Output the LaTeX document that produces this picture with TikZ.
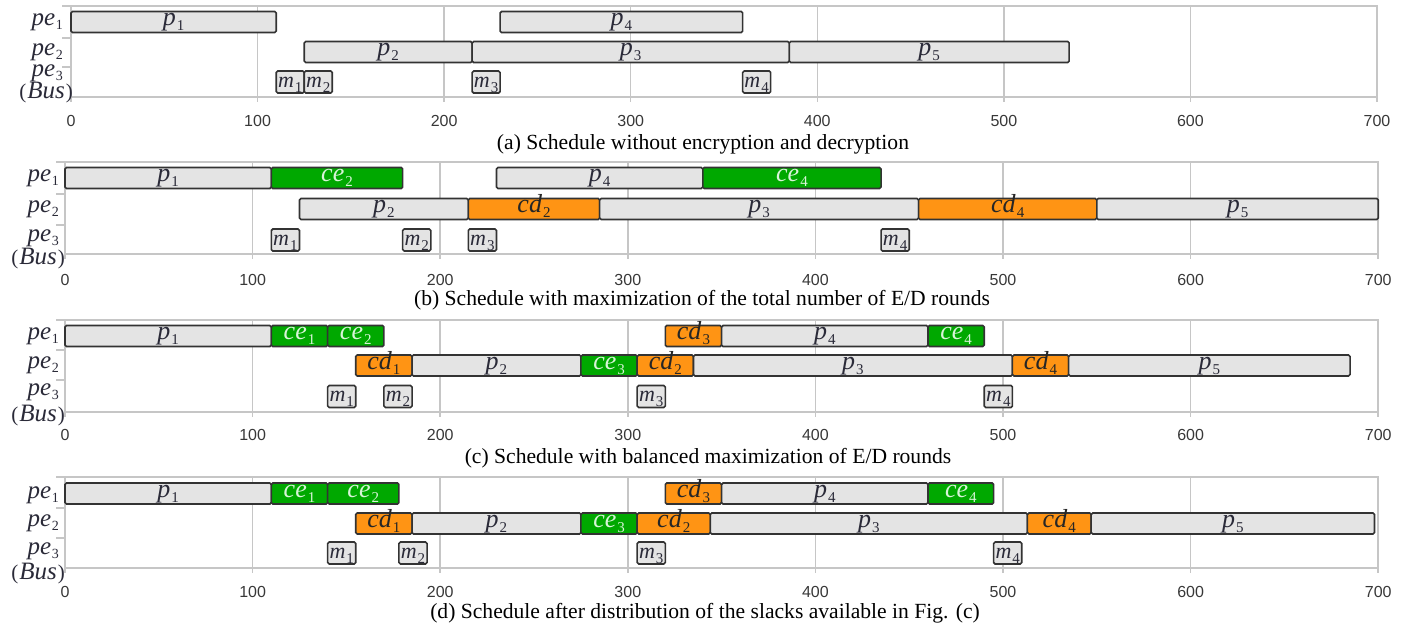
\documentclass[tikz,border=0pt]{standalone}
\usepackage{fontspec}
\setmainfont{Liberation Serif}
\newfontfamily\tickfont{Liberation Sans}

\definecolor{gridc}{HTML}{C6C6C6}
\definecolor{boxfill}{HTML}{E4E4E4}
\definecolor{boxline}{HTML}{333333}
\definecolor{encc}{HTML}{00A800}
\definecolor{decc}{HTML}{FF9414}
\definecolor{labc}{HTML}{2A2A38}
\definecolor{enclab}{HTML}{D8F4D8}

% italic letter(s) with an upright, lowered index
\newcommand\lbl[2]{\textit{#1}\kern1pt\raisebox{-5pt}{\fontsize{15}{15}\selectfont #2}}
% the same for the row names on the left
\newcommand\rowlbl[2]{\textit{#1}\kern0.5pt\raisebox{-4pt}{\fontsize{14}{14}\selectfont #2}}

\tikzset{
  jobbox/.style={draw=boxline, line width=1.6pt, rounded corners=1.5pt,
    inner sep=0pt, outer sep=0pt, minimum height=21pt,
    font=\fontsize{26}{26}\selectfont, text height=12pt, text depth=5pt, text=labc},
  proc/.style={jobbox, fill=boxfill},
  enc/.style={jobbox, fill=encc, text=enclab},
  dec/.style={jobbox, fill=decc, text=black!85},
  msg/.style={jobbox, fill=boxfill, minimum height=22pt,
    font=\fontsize{22}{22}\selectfont, text height=12pt, text depth=2pt},
  gridline/.style={draw=gridc, line width=1.5pt},
  ticklab/.style={font=\tickfont\fontsize{16}{16}\selectfont, text=black!78, inner sep=0pt},
  caption/.style={font=\fontsize{21.6}{22}\selectfont, inner sep=0pt},
  ylab/.style={font=\fontsize{25}{25}\selectfont, text=labc, anchor=base east, inner sep=0pt}
}

% one task: name, start, end, row centre, style, label
\newcommand\jobnode[6]{\node[#5, anchor=west, minimum width={(#3-#2)*\sx}] (#1) at ({\ox+#2*\sx},#4) {#6};}

% frame, grid and time axis: prefix, top, axis, separator 1, separator 2, tick label y
\newcommand\timeaxis[6]{%
  \foreach \t in {100,200,...,600} \draw[gridline] ({\ox+\t*\sx},#2) -- ({\ox+\t*\sx},#3+5);
  \draw[gridline] ({\ox-9},#2) -- ({\ox+700*\sx},#2) -- ({\ox+700*\sx},#3+5);
  \draw[gridline] (\ox,#2) -- (\ox,#3+5);
  \draw[gridline] (\ox,#3) -- ({\ox+700*\sx},#3);
  \draw[gridline] ({\ox-9},#4) -- (\ox,#4);
  \draw[gridline] ({\ox-9},#5) -- (\ox,#5);
  \foreach \t in {0,100,...,700} \node[ticklab] (#1-t\t) at ({\ox+\t*\sx},#6) {\t};
}

% bus label: small parentheses round an italic name
\newcommand\buslabel{{\fontsize{21}{21}\selectfont(}\kern1pt\textit{Bus}\kern1pt{\fontsize{21}{21}\selectfont)}}

\begin{document}
\begin{tikzpicture}[x=1pt, y=-1pt]
\useasboundingbox (0,0) rectangle (1416,633);

% ---------------- (a) ----------------
\def\ox{71}\def\sx{1.8657}
\timeaxis{a}{6}{97}{38}{67}{121}
\node[ylab] (a-pe1) at (63,25) {\rowlbl{pe}{1}};
\node[ylab] (a-pe2) at (63,55) {\rowlbl{pe}{2}};
\node[ylab] (a-pe3) at (63,76) {\rowlbl{pe}{3}};
\node[ylab] (a-bus) at (73,98) {\buslabel};
\jobnode{a-p1}{0}{110}{22}{proc}{\lbl{p}{1}}
\jobnode{a-p4}{230}{360}{22}{proc}{\lbl{p}{4}}
\jobnode{a-p2}{125}{215}{52}{proc}{\lbl{p}{2}}
\jobnode{a-p3}{215}{385}{52}{proc}{\lbl{p}{3}}
\jobnode{a-p5}{385}{535}{52}{proc}{\lbl{p}{5}}
\jobnode{a-m1}{110}{125}{82}{msg}{\lbl{m}{1}}
\jobnode{a-m2}{125}{140}{82}{msg}{\lbl{m}{2}}
\jobnode{a-m3}{215}{230}{82}{msg}{\lbl{m}{3}}
\jobnode{a-m4}{360}{375}{82}{msg}{\lbl{m}{4}}
\node[caption] (a-cap) at (703,144) {(a) Schedule without encryption and decryption};

% ---------------- (b) ----------------
\def\ox{65}\def\sx{1.876}
\timeaxis{b}{162}{254}{194}{225}{280}
\node[ylab] (b-pe1) at (59,181) {\rowlbl{pe}{1}};
\node[ylab] (b-pe2) at (59,212) {\rowlbl{pe}{2}};
\node[ylab] (b-pe3) at (59,241) {\rowlbl{pe}{3}};
\node[ylab] (b-bus) at (65,264) {\buslabel};
\jobnode{b-p1}{0}{110}{178}{proc}{\lbl{p}{1}}
\jobnode{b-ce2}{110}{180}{178}{enc}{\lbl{ce}{2}}
\jobnode{b-p4}{230}{340}{178}{proc}{\lbl{p}{4}}
\jobnode{b-ce4}{340}{435}{178}{enc}{\lbl{ce}{4}}
\jobnode{b-p2}{125}{215}{209}{proc}{\lbl{p}{2}}
\jobnode{b-cd2}{215}{285}{209}{dec}{\lbl{cd}{2}}
\jobnode{b-p3}{285}{455}{209}{proc}{\lbl{p}{3}}
\jobnode{b-cd4}{455}{550}{209}{dec}{\lbl{cd}{4}}
\jobnode{b-p5}{550}{700}{209}{proc}{\lbl{p}{5}}
\jobnode{b-m1}{110}{125}{240}{msg}{\lbl{m}{1}}
\jobnode{b-m2}{180}{195}{240}{msg}{\lbl{m}{2}}
\jobnode{b-m3}{215}{230}{240}{msg}{\lbl{m}{3}}
\jobnode{b-m4}{435}{450}{240}{msg}{\lbl{m}{4}}
\node[caption] (b-cap) at (702,300) {(b) Schedule with maximization of the total number of E/D rounds};

% ---------------- (c) ----------------
\timeaxis{c}{320}{412}{350}{380}{435}
\node[ylab] (c-pe1) at (59,339) {\rowlbl{pe}{1}};
\node[ylab] (c-pe2) at (59,368) {\rowlbl{pe}{2}};
\node[ylab] (c-pe3) at (59,395) {\rowlbl{pe}{3}};
\node[ylab] (c-bus) at (65,421) {\buslabel};
\jobnode{c-p1}{0}{110}{336}{proc}{\lbl{p}{1}}
\jobnode{c-ce1}{110}{140}{336}{enc}{\lbl{ce}{1}}
\jobnode{c-ce2}{140}{170}{336}{enc}{\lbl{ce}{2}}
\jobnode{c-cd3}{320}{350}{336}{dec}{\lbl{cd}{3}}
\jobnode{c-p4}{350}{460}{336}{proc}{\lbl{p}{4}}
\jobnode{c-ce4}{460}{490}{336}{enc}{\lbl{ce}{4}}
\jobnode{c-cd1}{155}{185}{365.5}{dec}{\lbl{cd}{1}}
\jobnode{c-p2}{185}{275}{365.5}{proc}{\lbl{p}{2}}
\jobnode{c-ce3}{275}{305}{365.5}{enc}{\lbl{ce}{3}}
\jobnode{c-cd2}{305}{335}{365.5}{dec}{\lbl{cd}{2}}
\jobnode{c-p3}{335}{505}{365.5}{proc}{\lbl{p}{3}}
\jobnode{c-cd4}{505}{535}{365.5}{dec}{\lbl{cd}{4}}
\jobnode{c-p5}{535}{685}{365.5}{proc}{\lbl{p}{5}}
\jobnode{c-m1}{140}{155}{396.5}{msg}{\lbl{m}{1}}
\jobnode{c-m2}{170}{185}{396.5}{msg}{\lbl{m}{2}}
\jobnode{c-m3}{305}{320}{396.5}{msg}{\lbl{m}{3}}
\jobnode{c-m4}{490}{505}{396.5}{msg}{\lbl{m}{4}}
\node[caption] (c-cap) at (708,458) {(c) Schedule with balanced maximization of E/D rounds};

% ---------------- (d) ----------------
\timeaxis{d}{477}{568}{508}{538}{592}
\node[ylab] (d-pe1) at (59,498) {\rowlbl{pe}{1}};
\node[ylab] (d-pe2) at (59,526) {\rowlbl{pe}{2}};
\node[ylab] (d-pe3) at (59,554) {\rowlbl{pe}{3}};
\node[ylab] (d-bus) at (65,579) {\buslabel};
\jobnode{d-p1}{0}{110}{493.5}{proc}{\lbl{p}{1}}
\jobnode{d-ce1}{110}{140}{493.5}{enc}{\lbl{ce}{1}}
\jobnode{d-ce2}{140}{178}{493.5}{enc}{\lbl{ce}{2}}
\jobnode{d-cd3}{320}{350}{493.5}{dec}{\lbl{cd}{3}}
\jobnode{d-p4}{350}{460}{493.5}{proc}{\lbl{p}{4}}
\jobnode{d-ce4}{460}{495}{493.5}{enc}{\lbl{ce}{4}}
\jobnode{d-cd1}{155}{185}{523.5}{dec}{\lbl{cd}{1}}
\jobnode{d-p2}{185}{275}{523.5}{proc}{\lbl{p}{2}}
\jobnode{d-ce3}{275}{305}{523.5}{enc}{\lbl{ce}{3}}
\jobnode{d-cd2}{305}{344}{523.5}{dec}{\lbl{cd}{2}}
\jobnode{d-p3}{344}{513}{523.5}{proc}{\lbl{p}{3}}
\jobnode{d-cd4}{513}{547}{523.5}{dec}{\lbl{cd}{4}}
\jobnode{d-p5}{547}{698}{523.5}{proc}{\lbl{p}{5}}
\jobnode{d-m1}{140}{155}{553}{msg}{\lbl{m}{1}}
\jobnode{d-m2}{178}{193}{553}{msg}{\lbl{m}{2}}
\jobnode{d-m3}{305}{320}{553}{msg}{\lbl{m}{3}}
\jobnode{d-m4}{495}{510}{553}{msg}{\lbl{m}{4}}
\node[caption] (d-cap) at (705,613) {(d) Schedule after distribution of the slacks available in Fig. (c)};
\end{tikzpicture}
\end{document}
